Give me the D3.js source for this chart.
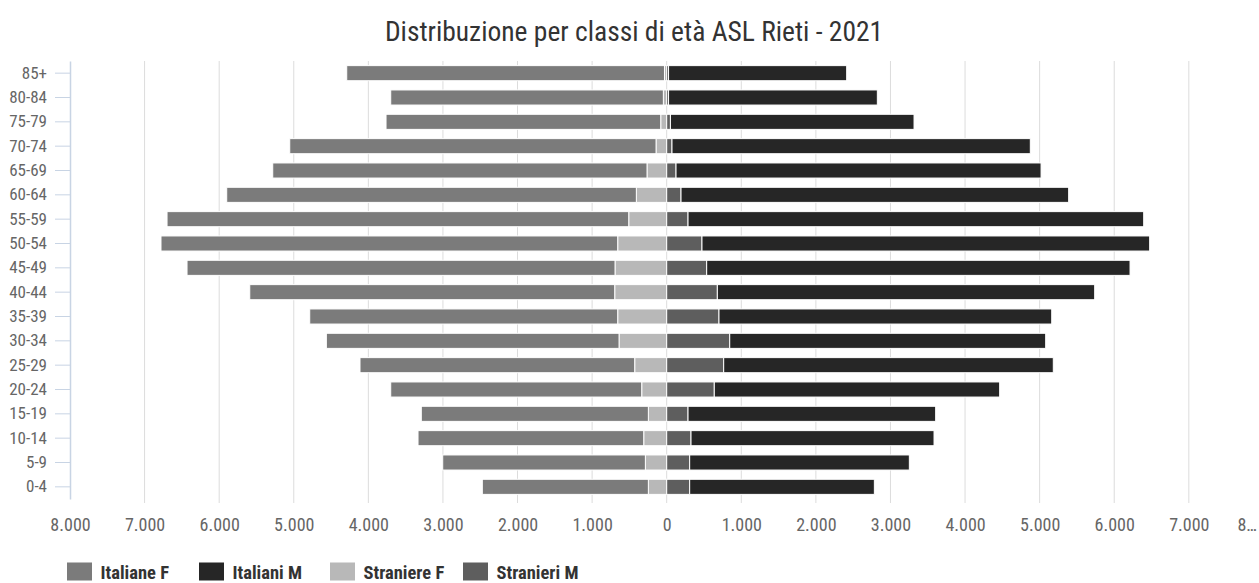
<!DOCTYPE html>
<html>
<head>
<meta charset="utf-8">
<script src="https://cdn.jsdelivr.net/npm/d3@7"></script>
<style>
  html, body { margin: 0; padding: 0; background: #fff; }
  svg { display: block; }
  text { font-family: "Roboto Condensed", "Liberation Sans Narrow", "DejaVu Sans Condensed", Roboto, sans-serif; }
</style>
</head>
<body>
<svg id="chart" width="1259" height="583"></svg>
<script>
const categories = ["85+","80-84","75-79","70-74","65-69","60-64","55-59","50-54","45-49","40-44","35-39","30-34","25-29","20-24","15-19","10-14","5-9","0-4"];
const italianeF  = [4260, 3655, 3683, 4911, 5018, 5492, 6190, 6123, 5738, 4893, 4129, 3924, 3683, 3365, 3044, 3026, 2717, 2226];
const stranieraF = [30, 45, 80, 143, 264, 407, 509, 657, 693, 697, 657, 639, 429, 335, 246, 308, 286, 246];
const italianiM  = [2388, 2799, 3266, 4804, 4894, 5197, 6109, 6002, 5676, 5059, 4461, 4236, 4419, 3826, 3320, 3258, 2945, 2476];
const stranieriM = [25, 25, 50, 71, 125, 192, 286, 473, 536, 679, 701, 845, 764, 638, 286, 326, 308, 308];
const xTicks = [-8000,-7000,-6000,-5000,-4000,-3000,-2000,-1000,0,1000,2000,3000,4000,5000,6000,7000,8000];
const seriesNames = ["Italiane F","Italiani M","Straniere F","Stranieri M"];
const seriesColors = ["#7b7b7b","#262626","#b8b8b8","#5e5e5e"];

const title = "Distribuzione per classi di età ASL Rieti - 2021";

const svg = d3.select("#chart");
const plotTop = 61, plotBottom = 499;

const x = d3.scaleLinear().domain([-8000, 8000]).range([70, 1263.4]);
const y = d3.scaleBand().domain(categories).range([plotTop, plotBottom]).paddingInner(0.38).paddingOuter(0.19);
const color = d3.scaleOrdinal().domain(seriesNames).range(seriesColors);

const locale = d3.formatLocale({decimal: ",", thousands: ".", grouping: [3], currency: ["€", ""]});
const fmt = locale.format(",d");

// title
svg.append("text")
  .attr("x", 634).attr("y", 41)
  .attr("text-anchor", "middle")
  .attr("font-size", 27.5)
  .attr("fill", "#333")
  .text(title);

// gridlines
svg.append("g").selectAll("line")
  .data(xTicks.filter(d => d !== -8000))
  .join("line")
  .attr("x1", d => x(d)).attr("x2", d => x(d))
  .attr("y1", plotTop).attr("y2", plotBottom + 4)
  .attr("stroke", "#dcdcdc").attr("stroke-width", 1);

// data rows
const rows = categories.map((c, i) => ({
  cat: c,
  "Italiane F": italianeF[i],
  "Straniere F": stranieraF[i],
  "Italiani M": italianiM[i],
  "Stranieri M": stranieriM[i]
}));

const leftStack = d3.stack().keys(["Straniere F", "Italiane F"])(rows);
const rightStack = d3.stack().keys(["Stranieri M", "Italiani M"])(rows);

const barsG = svg.append("g");
leftStack.forEach(s => {
  barsG.append("g").attr("fill", color(s.key))
    .selectAll("rect").data(s).join("rect")
    .attr("x", d => x(-d[1]))
    .attr("width", d => x(-d[0]) - x(-d[1]))
    .attr("y", d => y(d.data.cat))
    .attr("height", y.bandwidth())
    .attr("stroke", "#fff").attr("stroke-width", 1);
});
rightStack.forEach(s => {
  barsG.append("g").attr("fill", color(s.key))
    .selectAll("rect").data(s).join("rect")
    .attr("x", d => x(d[0]))
    .attr("width", d => x(d[1]) - x(d[0]))
    .attr("y", d => y(d.data.cat))
    .attr("height", y.bandwidth())
    .attr("stroke", "#fff").attr("stroke-width", 1);
});

// left axis
const yAxis = svg.append("g")
  .attr("transform", `translate(${x(-8000)},0)`)
  .call(d3.axisLeft(y).tickSize(15).tickSizeOuter(0).tickPadding(8));
yAxis.attr("font-family", null);
yAxis.select(".domain").attr("stroke", "#c8d4e4").attr("stroke-width", 1.5);
yAxis.selectAll(".tick line").attr("stroke", "#c8d4e4");
yAxis.selectAll(".tick text").attr("font-size", 17).attr("fill", "#666");

// bottom axis
const xAxis = svg.append("g")
  .attr("transform", `translate(0,${plotBottom})`)
  .call(d3.axisBottom(x).tickValues(xTicks).tickSize(0).tickPadding(19)
    .tickFormat(d => fmt(Math.abs(d))));
xAxis.attr("font-family", null);
xAxis.select(".domain").remove();
xAxis.selectAll(".tick text").attr("font-size", 18).attr("fill", "#666");
// last label is clipped by the chart edge -> truncated with ellipsis
xAxis.selectAll(".tick").filter(d => d === 8000).select("text")
  .text("8…").attr("text-anchor", "end").attr("dx", -7);

// legend
const legendX = [67, 199, 330, 463];
const lg = svg.append("g").selectAll("g").data(seriesNames).join("g")
  .attr("transform", (d, i) => `translate(${legendX[i]},562.5)`);
lg.append("rect").attr("width", 25).attr("height", 18).attr("fill", d => color(d));
lg.append("text").attr("x", 33.5).attr("y", 16)
  .attr("font-size", 18.5).attr("font-weight", "bold").attr("fill", "#333")
  .text(d => d);
</script>
</body>
</html>
